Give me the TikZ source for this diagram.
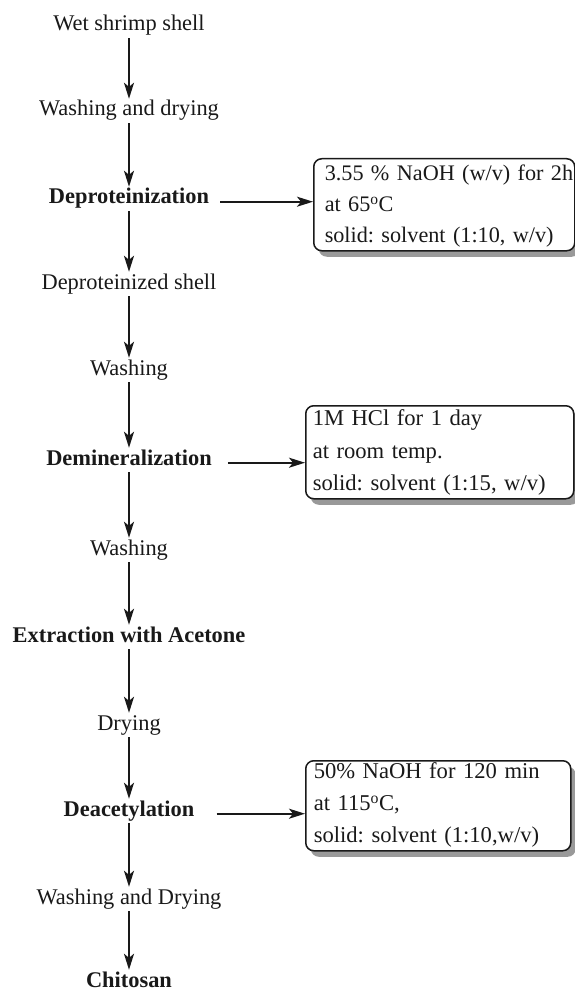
\documentclass[tikz,border=0pt]{standalone}
\usepackage{fontspec}
\setmainfont{Liberation Serif}
\usetikzlibrary{arrows.meta,shadows}
\frenchspacing
\begin{document}
\begin{tikzpicture}[x=1pt,y=-1pt,
  stepnode/.style={font=\fontsize{22.4}{26}\selectfont, text height=15pt, text depth=5pt, inner xsep=2pt, inner ysep=2pt, anchor=base, text=black!90},
  boldnode/.style={stepnode, font=\fontsize{22.4}{26}\selectfont\bfseries},
  flow/.style={line width=2pt, draw=black!90, -{Stealth[length=16pt,width=10pt,inset=4pt]}},
  cond/.style={draw=black!90, line width=1.5pt, rounded corners=8pt, fill=white,
    drop shadow={shadow xshift=5pt, shadow yshift=-6pt, fill=black!40, opacity=1},
    align=left, inner ysep=0pt, font=\fontsize{22.6}{31}\selectfont, anchor=north west, text=black!90}
]
\useasboundingbox (0,0) rectangle (574,992);

\node[stepnode] (w1)  at (129,31)  {Wet shrimp shell};
\node[stepnode] (w2)  at (129,116) {Washing and drying};
\node[boldnode] (dep) at (129,204) {Deproteinization};
\node[stepnode] (dps) at (129,289) {Deproteinized shell};
\node[stepnode] (wa1) at (129,375) {Washing};
\node[boldnode] (dem) at (129,465) {Demineralization};
\node[stepnode] (wa2) at (129,555) {Washing};
\node[boldnode] (ext) at (129,642) {Extraction with Acetone};
\node[stepnode] (dry) at (129,730) {Drying};
\node[boldnode] (dea) at (129,816) {Deacetylation};
\node[stepnode] (wad) at (129,904) {Washing and Drying};
\node[boldnode] (chi) at (129,987) {Chitosan};

\node[cond, inner xsep=11pt, text width=239pt, font=\fontsize{22.2}{31}\selectfont] (b1) at (313,158)
  {\rule{0pt}{22pt}\mbox{3.55 \% NaOH (w/v) for 2h}\\ at 65\textsuperscript{o}C\\ \mbox{solid: solvent (1:10, w/v)}\rule[-8pt]{0pt}{8pt}};
\node[cond, inner xsep=7pt, text width=254pt, font=\fontsize{22.6}{32.5}\selectfont] (b2) at (305,405)
  {\rule{0pt}{20pt}\mbox{1M HCl for 1 day}\\ at room temp.\\ \mbox{solid: solvent (1:15, w/v)}\rule[-8pt]{0pt}{8pt}};
\node[cond, inner xsep=8pt, text width=249pt, font=\fontsize{22.6}{32}\selectfont] (b3) at (305,760)
  {\rule{0pt}{18pt}\mbox{50\% NaOH for 120 min}\\ at 115\textsuperscript{o}C,\\ \mbox{solid: solvent (1:10,w/v)}\rule[-8pt]{0pt}{8pt}};

\draw[flow] (w1.south) -- (w2.north);
\draw[flow] (w2.south) -- (dep.north);
\draw[flow] (dep.south) -- (dps.north);
\draw[flow] (dps.south) -- (wa1.north);
\draw[flow] (wa1.south) -- (dem.north);
\draw[flow] (dem.south) -- (wa2.north);
\draw[flow] (wa2.south) -- (ext.north);
\draw[flow] (ext.south) -- (dry.north);
\draw[flow] (dry.south) -- (dea.north);
\draw[flow] (dea.south) -- (wad.north);
\draw[flow] (wad.south) -- (chi.north);

\draw[flow, shorten <=9pt] (dep.mid east) -- (dep.mid east -| b1.west);
\draw[flow, shorten <=14pt] (dem.mid east) -- (dem.mid east -| b2.west);
\draw[flow, shorten <=20pt] (dea.mid east) -- (dea.mid east -| b3.west);
\end{tikzpicture}
\end{document}
